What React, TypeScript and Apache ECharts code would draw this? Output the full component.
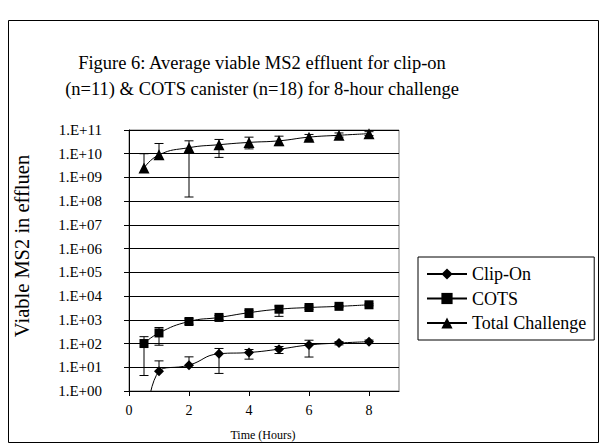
import React, { useEffect, useRef } from 'react';
import * as echarts from 'echarts';

const hours = [0.5, 1, 2, 3, 4, 5, 6, 7, 8];
const xTicks = [0, 2, 4, 6, 8];
const yExponents = [0, 1, 2, 3, 4, 5, 6, 7, 8, 9, 10, 11];

// Clip-On (first point is below the axis range, off chart)
const clipOn = [0.001, 6.8, 12.3, 37, 42, 58, 87, 105, 120];
const clipOnHigh = [null, 18.6, 27.5, 62, 56, 75, 138, 120, 140];
const clipOnLow = [null, null, null, 5.5, 22, 38, 27, 88, 100];

const cots = [100, 280, 850, 1260, 2000, 2800, 3300, 3700, 4300];
const cotsHigh = [195, 475, 1100, 1500, 2500, 3800, 3800, 4000, 4700];
const cotsLow = [4.5, 85, 650, 1050, 1250, 1400, 2800, 3400, 3900];

const total = [2.5e9, 9e9, 1.8e10, 2.4e10, 3.0e10, 3.5e10, 5.0e10, 6.0e10, 7.0e10];
const totalHigh = [1e10, 2.7e10, 3.5e10, 4.0e10, 5.0e10, 5.5e10, 6.5e10, 7.5e10, 8.5e10];
const totalLow = [null, null, 1.5e8, 7e9, 1.6e10, 2.2e10, 3.8e10, 5.0e10, 5.8e10];

const FONT = 'Liberation Serif';
const lg = (v: number) => Math.log10(v);

function errData(mean: number[], low: (number | null)[], high: (number | null)[], skipFirst = false) {
  const out: any[] = [];
  hours.forEach((h, i) => {
    if (skipFirst && i === 0) return;
    const m = lg(mean[i]);
    const hi = high[i] != null ? lg(high[i] as number) : m;
    const lo = low[i] != null ? lg(low[i] as number) : m;
    out.push([h, lo, hi, low[i] != null ? 1 : 0, high[i] != null ? 1 : 0]);
  });
  return out;
}

function renderErr(params: any, api: any) {
  const x = api.value(0);
  const lo = api.value(1);
  const hi = api.value(2);
  const capLo = api.value(3);
  const capHi = api.value(4);
  const pLo = api.coord([x, lo]);
  const pHi = api.coord([x, hi]);
  const w = 4.5;
  const style = { stroke: '#000', lineWidth: 1 };
  const children: any[] = [
    { type: 'line', shape: { x1: pLo[0], y1: pLo[1], x2: pHi[0], y2: pHi[1] }, style },
  ];
  if (capLo) children.push({ type: 'line', shape: { x1: pLo[0] - w, y1: pLo[1], x2: pLo[0] + w, y2: pLo[1] }, style });
  if (capHi) children.push({ type: 'line', shape: { x1: pHi[0] - w, y1: pHi[1], x2: pHi[0] + w, y2: pHi[1] }, style });
  return { type: 'group', children };
}

export default function App() {
  const ref = useRef<HTMLDivElement>(null);
  useEffect(() => {
    if (!ref.current) return;
    const chart = echarts.init(ref.current, undefined, { renderer: 'svg' });
    const lineBase = {
      type: 'line',
      smooth: true,
      color: '#000',
      lineStyle: { color: '#000', width: 1 },
      itemStyle: { color: '#000' },
      z: 3,
    };
    const txt = (text: string, x: number, y: number, size: number, extra: any = {}) => ({
      type: 'text', x, y, ...extra,
      style: { text, fontFamily: FONT, fontSize: size, fill: '#000', textAlign: 'center', textVerticalAlign: 'middle' },
    });
    chart.setOption({
      animation: false,
      backgroundColor: '#fff',
      textStyle: { fontFamily: FONT },
      grid: {
        left: 129, top: 130, width: 270, height: 261,
        show: true, borderColor: '#808080', borderWidth: 1, backgroundColor: 'transparent',
      },
      xAxis: {
        type: 'value', min: 0, max: 9, interval: 2,
        axisLine: { show: true, lineStyle: { color: '#000', width: 1 } },
        axisTick: { show: true, length: 5, inside: false, customValues: xTicks, lineStyle: { color: '#000' } },
        axisLabel: { customValues: xTicks, fontFamily: FONT, fontSize: 14, color: '#000', margin: 12 },
        splitLine: { show: false },
      },
      yAxis: {
        type: 'value', min: 0, max: 11, interval: 1,
        axisLine: { show: true, lineStyle: { color: '#000', width: 1 } },
        axisTick: { show: true, length: 5, inside: false, lineStyle: { color: '#000' } },
        axisLabel: {
          fontFamily: FONT, fontSize: 15, color: '#000', margin: 27,
          formatter: (v: number) => '1.E+' + String(yExponents[Math.round(v)]).padStart(2, '0'),
        },
        splitLine: { show: true, lineStyle: { color: '#000', width: 1 } },
      },
      legend: {
        orient: 'vertical', left: 418, top: 257,
        itemWidth: 40, itemHeight: 14, itemGap: 6.5,
        padding: [8, 8, 8, 8],
        borderColor: '#000', borderWidth: 1, borderRadius: 0,
        textStyle: { fontFamily: FONT, fontSize: 18, color: '#000' },
        data: ['Clip-On', 'COTS', 'Total Challenge'],
      },
      graphic: [
        { type: 'rect', shape: { x: 8.5, y: 20.5, width: 590, height: 422 }, style: { fill: 'none', stroke: '#000', lineWidth: 1 }, silent: true },
        txt('Figure 6: Average viable MS2 effluent for clip-on', 262, 63, 18.5),
        txt('(n=11) & COTS canister (n=18) for 8-hour challenge', 262, 89, 18.5),
        txt('Time (Hours)', 263, 435, 12),
        txt('Viable MS2 in effluen', 22, 246, 20.5, { rotation: Math.PI / 2 }),
      ],
      series: [
        { type: 'custom', name: 'errClip', renderItem: renderErr, data: errData(clipOn, clipOnLow, clipOnHigh, true), z: 2, silent: true },
        { type: 'custom', name: 'errCots', renderItem: renderErr, data: errData(cots, cotsLow, cotsHigh), z: 2, silent: true },
        { type: 'custom', name: 'errTotal', renderItem: renderErr, data: errData(total, totalLow, totalHigh), z: 2, silent: true },
        {
          ...lineBase, name: 'Clip-On', symbol: 'diamond', symbolSize: 10,
          data: hours.map((h, i) => (i === 0 ? { value: [h, lg(clipOn[i])], symbol: 'none' } : [h, lg(clipOn[i])])),
        },
        { ...lineBase, name: 'COTS', symbol: 'rect', symbolSize: 9, data: hours.map((h, i) => [h, lg(cots[i])]) },
        { ...lineBase, name: 'Total Challenge', symbol: 'triangle', symbolSize: 11, data: hours.map((h, i) => [h, lg(total[i])]) },
      ],
    });
    return () => chart.dispose();
  }, []);
  return <div ref={ref} style={{ position: 'absolute', left: 0, top: 0, width: 603, height: 443 }} />;
}
